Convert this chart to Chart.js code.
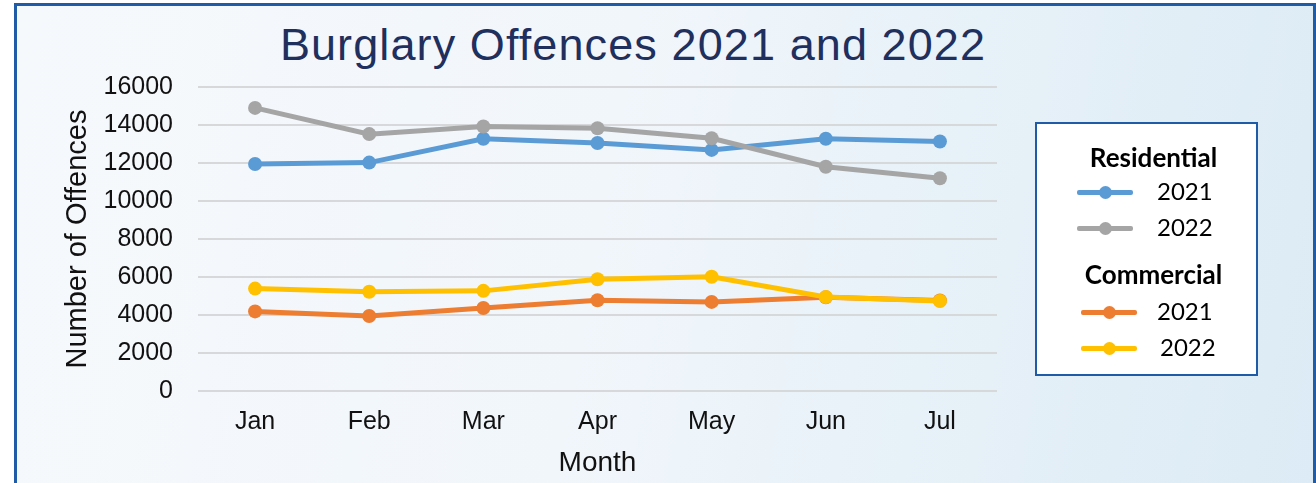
<!DOCTYPE html>
<html lang="en">
<head>
    <meta charset="UTF-8">
    <title>Burglary Offences 2021 and 2022</title>
    <script src="https://cdn.jsdelivr.net/npm/chart.js"></script>
    <style>
        html, body {
            margin: 0;
            padding: 0;
            width: 1316px;
            height: 483px;
            overflow: hidden;
            background: #ffffff;
        }
        .frame {
            position: absolute;
            left: 14px;
            top: 3px;
            width: 1296px;
            height: 500px;
            border: 3px solid #1f5ba6;
            background: linear-gradient(100deg, #f6f9fc 0%, #f1f6fb 45%, #e7f1f8 70%, #dcebf5 100%);
        }
        .chart-box {
            position: absolute;
            left: 0;
            top: 0;
            width: 1316px;
            height: 483px;
        }
        .title {
            position: absolute;
            left: 0;
            top: 19px;
            width: 1266px;
            text-align: center;
            font-family: "Liberation Sans", Arial, sans-serif;
            font-size: 45px;
            letter-spacing: 1.1px;
            color: #1f2f5e;
        }
        .legend {
            position: absolute;
            left: 1035px;
            top: 122px;
            width: 219px;
            height: 250px;
            border: 2px solid #1f5ba6;
            background: #ffffff;
            font-family: Lato, "Open Sans", sans-serif;
            color: #000;
        }
        .legend .head {
            position: absolute;
            left: 0;
            width: 233px;
            text-align: center;
            font-weight: bold;
            font-size: 26px;
        }
        .legend .item {
            position: absolute;
            height: 20px;
        }
        .legend .line {
            position: absolute;
            top: 8px;
            height: 5px;
            width: 56px;
            border-radius: 2px;
        }
        .legend .dot {
            position: absolute;
            top: 4px;
            left: 22px;
            width: 13px;
            height: 13px;
            border-radius: 50%;
        }
        .legend .year {
            position: absolute;
            left: 80px;
            top: -6px;
            font-size: 24px;
        }
    </style>
</head>
<body>
    <div class="frame"></div>
    <div class="title">Burglary Offences 2021 and 2022</div>
    <div class="chart-box">
        <canvas id="burglaryChart" width="1316" height="483"></canvas>
    </div>
    <div class="legend" id="legend"></div>

    <script>
        const months = ['Jan', 'Feb', 'Mar', 'Apr', 'May', 'Jun', 'Jul'];
        const residential2021 = [11950, 12020, 13280, 13050, 12690, 13280, 13130];
        const residential2022 = [14900, 13520, 13920, 13830, 13300, 11800, 11200];
        const commercial2021 = [4190, 3950, 4370, 4780, 4690, 4930, 4760];
        const commercial2022 = [5390, 5220, 5270, 5880, 6010, 4950, 4740];
        const yTicks = [0, 2000, 4000, 6000, 8000, 10000, 12000, 14000, 16000];

        const colours = {
            res2021: '#5b9bd5',
            res2022: '#a5a5a5',
            com2021: '#ed7d31',
            com2022: '#ffc000'
        };

        function lineSet(label, data, colour) {
            return {
                label: label,
                data: data,
                borderColor: colour,
                backgroundColor: colour,
                borderWidth: 5,
                pointRadius: 7,
                pointHoverRadius: 7,
                pointBorderWidth: 0,
                tension: 0
            };
        }

        // first dataset ends up drawn on top
        const ctx = document.getElementById('burglaryChart').getContext('2d');
        new Chart(ctx, {
            type: 'line',
            data: {
                labels: months,
                datasets: [
                    lineSet('Commercial 2022', commercial2022, colours.com2022),
                    lineSet('Commercial 2021', commercial2021, colours.com2021),
                    lineSet('Residential 2022', residential2022, colours.res2022),
                    lineSet('Residential 2021', residential2021, colours.res2021)
                ]
            },
            options: {
                responsive: false,
                animation: false,
                layout: {
                    padding: { left: 58, right: 319, top: 87, bottom: 0 }
                },
                scales: {
                    x: {
                        offset: true,
                        grid: { display: false, drawTicks: false },
                        border: { display: false },
                        ticks: {
                            padding: 16,
                            color: '#111',
                            font: { family: 'Liberation Sans', size: 25 }
                        },
                        title: {
                            display: true,
                            text: 'Month',
                            color: '#111',
                            padding: { top: 0, bottom: 3 },
                            font: { family: 'Liberation Sans', size: 28 }
                        },
                        afterFit: function(scale) { scale.height = 92; }
                    },
                    y: {
                        min: 0,
                        max: 16000,
                        afterBuildTicks: function(scale) {
                            scale.ticks = yTicks.map(v => ({ value: v }));
                        },
                        grid: {
                            color: '#d6d8da',
                            lineWidth: 2,
                            drawTicks: false
                        },
                        border: { display: false },
                        ticks: {
                            padding: 25,
                            color: '#111',
                            font: { family: 'Liberation Sans', size: 25 },
                            callback: function(value) { return String(value); }
                        },
                        title: {
                            display: true,
                            text: 'Number of Offences',
                            color: '#111',
                            padding: { top: 3, bottom: 0 },
                            font: { family: 'Liberation Sans', size: 29 }
                        },
                        afterFit: function(scale) { scale.width = 140; }
                    }
                },
                plugins: {
                    legend: { display: false },
                    title: { display: false },
                    tooltip: { enabled: true }
                }
            }
        });

        // legend box drawn as html, grouped like the original
        const legendRows = [
            { head: 'Residential', top: 17 },
            { year: '2021', colour: colours.res2021, top: 58, left: 40, yearLeft: 120 },
            { year: '2022', colour: colours.res2022, top: 94, left: 40, yearLeft: 120 },
            { head: 'Commercial', top: 134 },
            { year: '2021', colour: colours.com2021, top: 178, left: 44, yearLeft: 120 },
            { year: '2022', colour: colours.com2022, top: 214, left: 44, yearLeft: 123 }
        ];
        const legend = document.getElementById('legend');
        legendRows.forEach(function(row) {
            const el = document.createElement('div');
            if (row.head) {
                el.className = 'head';
                el.style.top = row.top + 'px';
                el.textContent = row.head;
            } else {
                el.className = 'item';
                el.style.top = row.top + 'px';
                el.style.left = row.left + 'px';
                el.innerHTML = '<div class="line" style="background:' + row.colour + '"></div>' +
                    '<div class="dot" style="background:' + row.colour + '"></div>' +
                    '<div class="year" style="left:' + (row.yearLeft - row.left) + 'px">' + row.year + '</div>';
            }
            legend.appendChild(el);
        });
    </script>
</body>
</html>
